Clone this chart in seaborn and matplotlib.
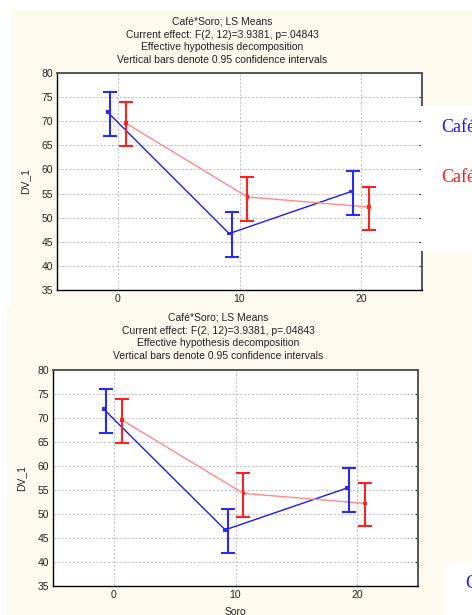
import matplotlib
matplotlib.use("Agg")
import matplotlib.pyplot as plt
from matplotlib.patches import Rectangle
import seaborn as sns
import pandas as pd

# LS means and 0.95 confidence limits
soro = [0, 10, 20]
cafe_levels = ["Café 1", "Café 2"]
blue_mean = [71.9, 46.7, 55.4]
blue_low = [66.9, 41.9, 50.5]
blue_high = [76.0, 51.1, 59.6]
red_mean = [69.6, 54.3, 52.2]
red_low = [64.8, 49.4, 47.4]
red_high = [74.0, 58.5, 56.4]

title_lines = ["Café*Soro; LS Means",
               "Current effect: F(2, 12)=3.9381, p=.04843",
               "Effective hypothesis decomposition",
               "Vertical bars denote 0.95 confidence intervals"]

sns.set_style("white")
plt.rcParams['font.family'] = ['Liberation Sans', 'DejaVu Sans']

W, H = 472, 615
fig = plt.figure(figsize=(W / 100, H / 100), dpi=100)
fig.patch.set_facecolor("white")

cream = "#fffaee"


def px_rect(x0, y0, x1, y1, color, z):
    fig.add_artist(Rectangle((x0 / W, 1 - y1 / H), (x1 - x0) / W, (y1 - y0) / H,
                             transform=fig.transFigure, facecolor=color,
                             edgecolor="none", zorder=z))


px_rect(11, 10, W, 306, cream, -2)
px_rect(7, 305, W, H, cream, -2)

dodge = {"Café 1": -0.85, "Café 2": 0.65}
line_colors = {"Café 1": "#1c1cf0", "Café 2": "#ff8a8a"}
bar_colors = {"Café 1": "#2a2af5", "Café 2": "#ff2020"}

rows = []
for cafe, means, lows, highs in [("Café 1", blue_mean, blue_low, blue_high),
                                 ("Café 2", red_mean, red_low, red_high)]:
    for s, m, lo, hi in zip(soro, means, lows, highs):
        rows.append({"Soro": s, "x": s + dodge[cafe], "DV_1": m,
                     "low": lo, "high": hi, "Cafe": cafe})
df = pd.DataFrame(rows)


def draw_panel(ax, title_y, title_x, xlabel):
    ax.set_facecolor("white")
    sns.lineplot(data=df, x="x", y="DV_1", hue="Cafe", palette=line_colors,
                 estimator=None, errorbar=None, legend=False, lw=1.0, ax=ax)
    for cafe in cafe_levels:
        sub = df[df["Cafe"] == cafe]
        shift = 0.2 if cafe == "Café 1" else 0.0
        ax.errorbar(sub["x"] + shift, sub["DV_1"],
                    yerr=[sub["DV_1"] - sub["low"], sub["high"] - sub["DV_1"]],
                    fmt="none", ecolor=bar_colors[cafe], elinewidth=1.5,
                    capsize=5, capthick=1.5)
    sns.scatterplot(data=df, x="x", y="DV_1", hue="Cafe", palette=bar_colors,
                    marker="s", s=7, linewidth=0, legend=False, ax=ax, zorder=4)
    ax.set_xlim(-5, 25)
    ax.set_ylim(35, 80)
    ax.set_xticks(soro)
    ax.set_yticks(range(35, 81, 5))
    ax.grid(True, ls=(0, (2.5, 1.5)), color="#c4c4c4", lw=0.7)
    ax.tick_params(labelsize=7.5, length=2, direction="in", right=True, top=False,
                   pad=3, color="#333333")
    for side in ["left", "bottom"]:
        ax.spines[side].set_color("black")
        ax.spines[side].set_linewidth(1.0)
    for side in ["top", "right"]:
        ax.spines[side].set_color("#555555")
        ax.spines[side].set_linewidth(1.4)
    ax.set_ylabel("DV_1", fontsize=7.5, labelpad=8)
    ax.set_xlabel(xlabel, fontsize=7.5, labelpad=5)
    for i, line in enumerate(title_lines):
        fig.text(title_x / W, 1 - (title_y + i * 12.7) / H, line,
                 ha="center", va="center", fontsize=7.5, color="#222222")


ax1 = fig.add_axes([57 / W, 1 - 290 / H, 365 / W, 217 / H])
draw_panel(ax1, 22, 222, "")
ax2 = fig.add_axes([53 / W, 1 - 586 / H, 365 / W, 216 / H])
draw_panel(ax2, 318, 218, "Soro")

# white boxes holding the (cut off) legend text on the right
px_rect(421, 106, W, 251, "white", 5)
px_rect(445, 563, W, H, "white", 5)
serif = ["Liberation Serif", "DejaVu Serif"]
fig.text(441 / W, 1 - 128 / H, "Café", color="#1a1aff", fontsize=13,
         family=serif, va="center", zorder=6)
fig.text(441 / W, 1 - 177 / H, "Café", color="#ff1a1a", fontsize=13,
         family=serif, va="center", zorder=6)
fig.text(465 / W, 1 - 584 / H, "Café", color="#1a1aff", fontsize=13,
         family=serif, va="center", zorder=6)

fig.savefig("out.png", dpi=100)
